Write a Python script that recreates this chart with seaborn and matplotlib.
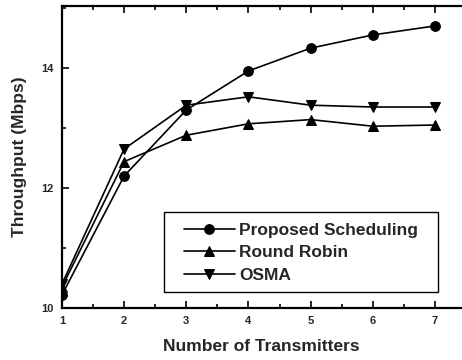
import pandas as pd
import matplotlib
matplotlib.use("Agg")
import matplotlib.pyplot as plt
import seaborn as sns
from matplotlib.ticker import MultipleLocator
from matplotlib.patches import Rectangle

sns.set_theme(style="ticks")
plt.rcParams["font.family"] = ["Liberation Sans", "DejaVu Sans"]

# Dados
transmissores = [1, 2, 3, 4, 5, 6, 7]
proposed = [10.22, 12.20, 13.30, 13.95, 14.33, 14.55, 14.70]
round_robin = [10.35, 12.44, 12.88, 13.07, 13.14, 13.03, 13.05]
osma = [10.40, 12.65, 13.38, 13.52, 13.38, 13.35, 13.35]

series = {
    "Proposed Scheduling": (proposed, "o"),
    "Round Robin": (round_robin, "^"),
    "OSMA": (osma, "v"),
}

fig = plt.figure(figsize=(4.62, 3.6), dpi=100)
ax = fig.add_axes([0.134, 0.144, 0.864, 0.839])

for nome, (valores, marcador) in series.items():
    df = pd.DataFrame({"x": transmissores, "y": valores})
    sns.lineplot(data=df, x="x", y="y", ax=ax, color="black", linewidth=1.2,
                 marker=marcador, markersize=7, markeredgecolor="black",
                 label=nome)

ax.set_xlim(1, 7.42)
ax.set_ylim(10, 15.03)
ax.xaxis.set_major_locator(MultipleLocator(1))
ax.xaxis.set_minor_locator(MultipleLocator(0.5))
ax.yaxis.set_major_locator(MultipleLocator(2))
ax.yaxis.set_minor_locator(MultipleLocator(1))
ax.tick_params(which="both", direction="in", top=True, right=False,
               labelsize=8, width=1.2, color="black", pad=6)
ax.tick_params(which="major", length=5)
ax.tick_params(which="minor", length=3)
for lbl in ax.get_xticklabels() + ax.get_yticklabels():
    lbl.set_fontweight("bold")
for s in ax.spines.values():
    s.set_color("black")
    s.set_linewidth(1.6)
ax.spines["right"].set_visible(False)

ax.set_xlabel("Number of Transmitters", fontsize=12.5, fontweight="bold", labelpad=9)
ax.set_ylabel("Throughput (Mbps)", fontsize=12.5, fontweight="bold", labelpad=10)

# Legenda com moldura desenhada à parte
ax.add_patch(Rectangle((0.256, 0.053), 0.686, 0.265, transform=ax.transAxes,
                       fill=True, facecolor="white", edgecolor="black",
                       linewidth=1.0, zorder=4))
leg = ax.legend(loc="center", bbox_to_anchor=(0.599, 0.183), frameon=False,
                prop={"size": 12.5, "weight": "bold"},
                handlelength=2.9, handletextpad=0.25, labelspacing=0.42,
                borderpad=0)
leg.set_zorder(5)

fig.savefig("out.png", dpi=100)
